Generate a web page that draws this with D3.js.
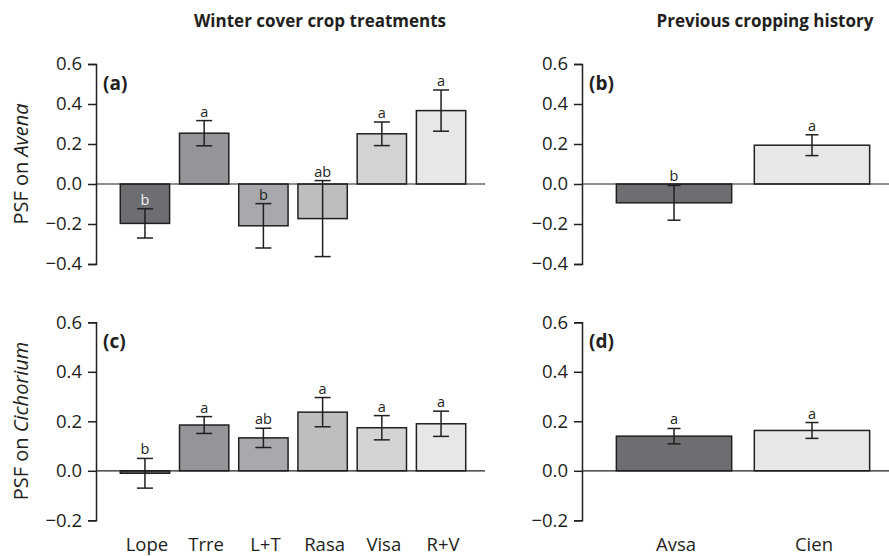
<!DOCTYPE html>
<html><head><meta charset="utf-8">
<script src="https://cdn.jsdelivr.net/npm/d3@7/dist/d3.min.js"></script>
<style>body{margin:0;background:#fff}svg{display:block}text{font-family:"Open Sans",sans-serif;fill:#231f20}</style>
</head><body>
<svg id="c" width="889" height="556"></svg>
<script>
// ---- data ----
const treatments = ["Lope","Trre","L+T","Rasa","Visa","R+V"];
const history = ["Avsa","Cien"];
const avenaTreatMean = [-0.197, 0.254, -0.209, -0.173, 0.251, 0.367];
const avenaTreatErr  = [0.073, 0.063, 0.111, 0.190, 0.059, 0.103];
const avenaTreatLet  = ["b","a","b","ab","a","a"];
const avenaHistMean  = [-0.094, 0.194];
const avenaHistErr   = [0.087, 0.052];
const avenaHistLet   = ["b","a"];
const cichTreatMean  = [-0.010, 0.185, 0.133, 0.237, 0.174, 0.190];
const cichTreatErr   = [0.060, 0.034, 0.039, 0.059, 0.049, 0.051];
const cichTreatLet   = ["b","a","ab","a","a","a"];
const cichHistMean   = [0.140, 0.163];
const cichHistErr    = [0.031, 0.032];
const cichHistLet    = ["a","a"];
const avenaTicks = [0.6,0.4,0.2,0.0,-0.2,-0.4];
const cichTicks  = [0.6,0.4,0.2,0.0,-0.2];

const treatFills = ["#6d6e71","#939598","#a7a9ac","#bcbec0","#d1d3d4","#e6e7e8"];
const histFills  = ["#6d6e71","#e6e7e8"];

const svg = d3.select("#c");
const fmt = d3.format(".1f");
const ink = "#231f20";

function panel(o){
  const g = svg.append("g");
  const x = d3.scaleBand().domain(o.cats).range(o.xr).paddingInner(o.pi).paddingOuter(o.po);
  const y = d3.scaleLinear().domain([o.ticks[o.ticks.length-1], o.ticks[0]]).range(o.yr);
  const data = o.cats.map((c,i)=>({c, m:o.mean[i], e:o.err[i], l:o.lets[i], f:o.fills[i], i}));
  // bars
  g.selectAll("rect.bar").data(data).join("rect")
    .attr("x", d=>x(d.c)).attr("width", x.bandwidth())
    .attr("y", d=>y(Math.max(0,d.m))).attr("height", d=>Math.abs(y(d.m)-y(0)))
    .attr("fill", d=>d.f).attr("stroke", ink).attr("stroke-width",1.5);
  // zero line
  g.append("line").attr("x1", o.xr[0]).attr("x2", o.zeroEnd)
    .attr("y1", y(0)).attr("y2", y(0)).attr("stroke", ink).attr("stroke-width",1.2);
  // error bars
  const eb = g.selectAll("g.eb").data(data).join("g");
  eb.append("line").attr("x1", d=>x(d.c)+x.bandwidth()/2).attr("x2", d=>x(d.c)+x.bandwidth()/2)
    .attr("y1", d=>y(d.m+d.e)).attr("y2", d=>y(d.m-d.e)).attr("stroke", ink).attr("stroke-width",1.5);
  [1,-1].forEach(s=>{
    eb.append("line").attr("x1", d=>x(d.c)+x.bandwidth()/2-o.cap/2).attr("x2", d=>x(d.c)+x.bandwidth()/2+o.cap/2)
      .attr("y1", d=>y(d.m+s*d.e)).attr("y2", d=>y(d.m+s*d.e)).attr("stroke", ink).attr("stroke-width",1.5);
  });
  // letters
  g.selectAll("text.let").data(data).join("text")
    .attr("x", d=>x(d.c)+x.bandwidth()/2).attr("y", d=>y(d.m+d.e)-4)
    .attr("text-anchor","middle").style("font-size","14.5px")
    .style("fill", d=> (y(d.m+d.e)-14 > y(0) && d.i===0) ? "#f2f2f2" : ink)
    .text(d=>d.l);
  // axis
  const ax = g.append("g").attr("transform", `translate(${o.xr[0]},0)`)
    .call(d3.axisLeft(y).tickValues(o.ticks).tickFormat(fmt).tickSize(8).tickPadding(6));
  ax.select(".domain").attr("stroke", ink).attr("stroke-width",1.5);
  ax.selectAll(".tick line").attr("stroke", ink).attr("stroke-width",1.5);
  ax.selectAll(".tick text").style("font-size","18.5px").style("font-family",'"Open Sans",sans-serif').attr("fill", ink);
  // panel label
  g.append("text").attr("x", o.xr[0]+7).attr("y", o.yr[1]+25.5)
    .style("font-size","19px").style("font-weight","bold").text(o.label);
  // category labels
  if(o.showCats){
    g.selectAll("text.cat").data(data).join("text")
      .attr("x", d=>x(d.c)+x.bandwidth()/2+2).attr("y", 551)
      .attr("text-anchor","middle").style("font-size","18.5px").text(d=>d.c);
  }
  return y;
}

const L = {xr:[96,490], pi:0.167, po:0.41, zeroEnd:485, cap:16, fills:treatFills, cats:treatments};
const R = {xr:[582,904], pi:0.164, po:0.249, zeroEnd:889, cap:13, fills:histFills, cats:history};
const topY = [264,64], botY = [520.3,322.3];

panel({...L, yr:topY, ticks:avenaTicks, mean:avenaTreatMean, err:avenaTreatErr, lets:avenaTreatLet, label:"(a)"});
panel({...R, yr:topY, ticks:avenaTicks, mean:avenaHistMean, err:avenaHistErr, lets:avenaHistLet, label:"(b)"});
panel({...L, yr:botY, ticks:cichTicks, mean:cichTreatMean, err:cichTreatErr, lets:cichTreatLet, label:"(c)", showCats:true});
panel({...R, yr:botY, ticks:cichTicks, mean:cichHistMean, err:cichHistErr, lets:cichHistLet, label:"(d)", showCats:true});

// titles
svg.append("text").attr("x",320).attr("y",27).attr("text-anchor","middle")
  .style("font-size","17px").style("font-weight","bold").text("Winter cover crop treatments");
svg.append("text").attr("x",765).attr("y",27).attr("text-anchor","middle")
  .style("font-size","17px").style("font-weight","bold").text("Previous cropping history");

// y labels
function ylab(cy, sp){
  const t = svg.append("text").attr("transform",`translate(28,${cy}) rotate(-90)`)
    .attr("text-anchor","middle").style("font-size","20px");
  t.append("tspan").text("PSF on ");
  t.append("tspan").style("font-style","italic").text(sp);
}
ylab(164, "Avena");
ylab(421, "Cichorium");
</script>
</body></html>
